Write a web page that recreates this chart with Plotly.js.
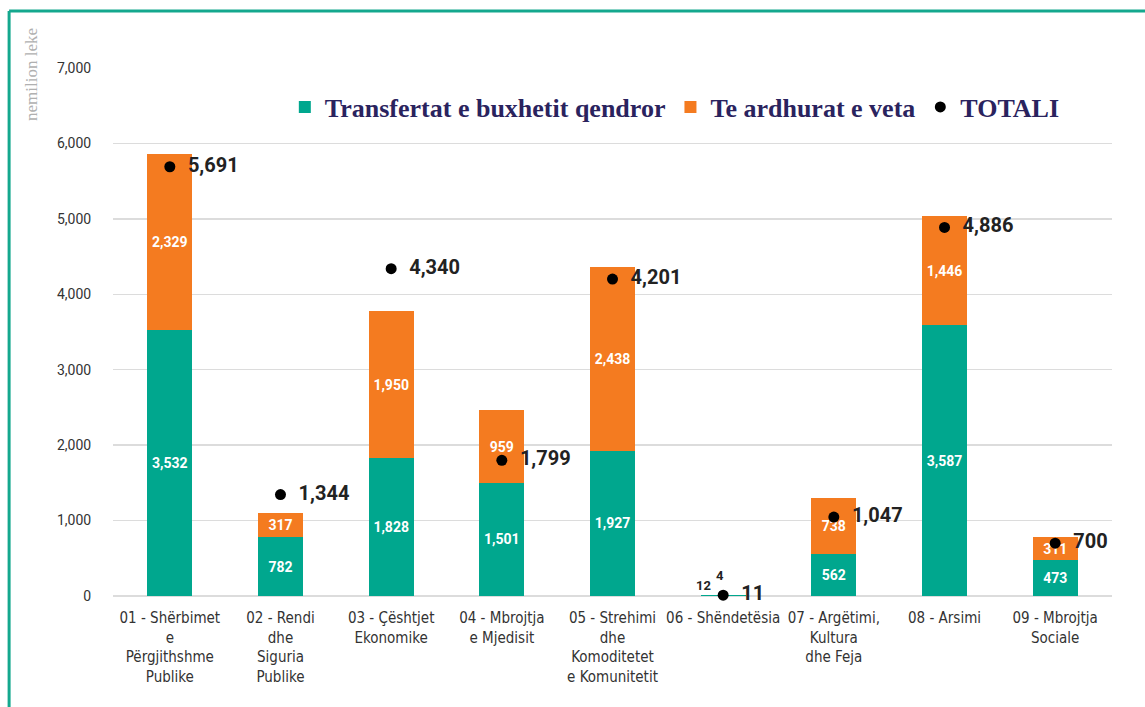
<!DOCTYPE html>
<html>
<head>
<meta charset="utf-8">
<script src="https://cdn.plot.ly/plotly-3.0.1.min.js"></script>
<style>html,body{margin:0;padding:0;background:#fff;}#chart{width:1145px;height:707px;}</style>
</head>
<body>
<div id="chart"></div>
<script>
const categories = [
  "01 - Shërbimet<br>e<br>Përgjithshme<br>Publike",
  "02 - Rendi<br>dhe<br>Siguria<br>Publike",
  "03 - Çështjet<br>Ekonomike",
  "04 - Mbrojtja<br>e Mjedisit",
  "05 - Strehimi<br>dhe<br>Komoditetet<br>e Komunitetit",
  "06 - Shëndetësia",
  "07 - Argëtimi,<br>Kultura<br>dhe Feja",
  "08 - Arsimi",
  "09 - Mbrojtja<br>Sociale"
];
const transfertat = [3532, 782, 1828, 1501, 1927, 12, 562, 3587, 473];
const teArdhurat = [2329, 317, 1950, 959, 2438, 4, 738, 1446, 311];
const totali = [5691, 1344, 4340, 1799, 4201, 11, 1047, 4886, 700];
const yTicks = [0, 1000, 2000, 3000, 4000, 5000, 6000, 7000];
const seriesNames = ["Transfertat e buxhetit qendror", "Te ardhurat e veta", "TOTALI"];

const GREEN = "#00a78e", ORANGE = "#f47b20";
const smallIdx = 5; // category whose bar labels are drawn outside
const barTextPos = v => v.map((_, i) => i === smallIdx ? "none" : "inside");
const labelFont = {family: "Roboto, 'Open Sans', sans-serif", size: 14, color: "#ffffff", weight: 700};

const traces = [
  {type: "bar", name: seriesNames[0], x: categories, y: transfertat, marker: {color: GREEN},
   texttemplate: "%{y:,}", textposition: barTextPos(transfertat), insidetextanchor: "middle",
   insidetextfont: labelFont, hoverinfo: "skip"},
  {type: "bar", name: seriesNames[1], x: categories, y: teArdhurat, marker: {color: ORANGE},
   texttemplate: "%{y:,}", textposition: barTextPos(teArdhurat), insidetextanchor: "middle",
   insidetextfont: labelFont, hoverinfo: "skip"},
  {type: "scatter", mode: "markers+text", name: seriesNames[2], x: categories, y: totali,
   marker: {color: "#000", size: 11}, text: totali.map(v => "\u2002" + v.toLocaleString("en-US")),
   textposition: "middle right",
   textfont: {family: "Roboto, 'Open Sans', sans-serif", size: 20, color: "#222", weight: 700},
   cliponaxis: false, hoverinfo: "skip"}
];

const annotations = [
  {xref: "paper", yref: "paper", x: -0.081, y: 0.987, xanchor: "center", yanchor: "middle",
   text: "nemilion leke", textangle: -90, showarrow: false,
   font: {family: "'Liberation Serif', 'DejaVu Serif', serif", size: 17, color: "#b0b0b0"}},
  {x: categories[smallIdx], y: transfertat[smallIdx], text: String(transfertat[smallIdx]), showarrow: false,
   xshift: -20, yshift: 10, font: {family: "Roboto, sans-serif", size: 13, color: "#222", weight: 700}},
  {x: categories[smallIdx], y: transfertat[smallIdx] + teArdhurat[smallIdx], text: String(teArdhurat[smallIdx]), showarrow: false,
   xshift: -3, yshift: 19, font: {family: "Roboto, sans-serif", size: 13, color: "#222", weight: 700}}
];

const layout = {
  width: 1145, height: 707,
  margin: {l: 113, r: 33, t: 68, b: 111},
  paper_bgcolor: "#fff", plot_bgcolor: "#fff",
  barmode: "stack", bargap: 0.595,
  separators: ".,",
  showlegend: true,
  legend: {orientation: "h", x: 0.172, y: 0.926, xanchor: "left", yanchor: "middle",
    font: {family: "'Liberation Serif', 'DejaVu Serif', serif", size: 26, color: "#2a235e", weight: 700},
    itemwidth: 30, traceorder: "normal", bgcolor: "rgba(0,0,0,0)"},
  xaxis: {type: "category", tickangle: 0,
    tickfont: {family: "'Liberation Sans Narrow', 'DejaVu Sans Condensed', Roboto, sans-serif", size: 15, color: "#333"},
    showgrid: false, zeroline: false, ticks: "outside", ticklen: 8, tickcolor: "rgba(0,0,0,0)", showline: false},
  yaxis: {range: [0, 7000], tickvals: yTicks, tickformat: ",",
    tickfont: {family: "Roboto, 'Open Sans', sans-serif", size: 14, color: "#333"},
    showgrid: true, gridcolor: "#dcdcdc", gridwidth: 1.5, zeroline: true, zerolinecolor: "#dcdcdc", zerolinewidth: 1.5,
    ticks: "outside", ticklen: 18, tickcolor: "rgba(0,0,0,0)"},
  annotations: annotations,
  shapes: [
    {type: "line", xref: "paper", yref: "paper", x0: -0.104, x1: 1.1, y0: 1.108, y1: 1.108, line: {color: "#14a88e", width: 3}},
    {type: "line", xref: "paper", yref: "paper", x0: -0.104, x1: -0.104, y0: 1.108, y1: -0.3, line: {color: "#14a88e", width: 3}}
  ]
};

Plotly.newPlot("chart", traces, layout, {displayModeBar: false, staticPlot: true});
</script>
</body>
</html>
